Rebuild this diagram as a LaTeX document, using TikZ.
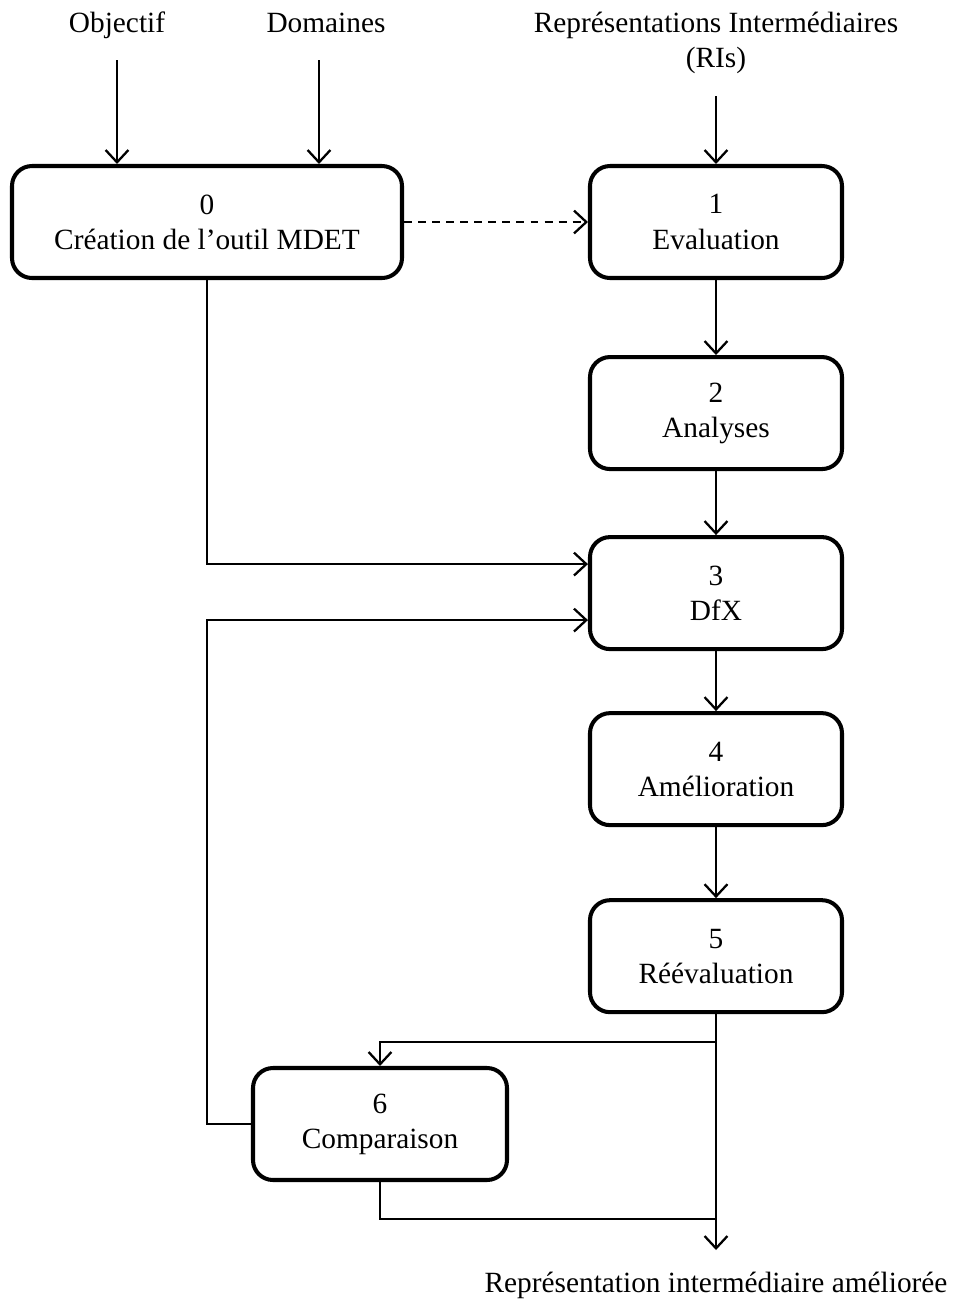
\documentclass[tikz,border=0pt]{standalone}
\usepackage{fontspec}
\setmainfont{Liberation Serif}
\usepackage{tikz}
\usetikzlibrary{arrows.meta, positioning}

\begin{document}
\begin{tikzpicture}
\tikzstyle{stepbox} = [rectangle, draw, rounded corners=0.4cm, line width=2.3pt, minimum width=5.04cm, minimum height=2.24cm, inner sep=0pt, align=center, font=\fontsize{16.7}{20}\selectfont]
\tikzstyle{inlabel} = [align=center, font=\fontsize{16.7}{20}\selectfont]
\tikzstyle{arrow} = [line width=1.3pt, -{Straight Barb[length=7pt, width=13pt]}]

\useasboundingbox (0,0) rectangle (19.06,-26.08);

% inputs and output
\node (obj) [inlabel, anchor=base] at (2.34,-0.64) {Objectif};
\node (dom) [inlabel, anchor=base] at (6.52,-0.64) {Domaines};
\node (ris) [inlabel] at (14.32,-0.86) {Représentations Intermédiaires\\(RIs)};
\node (out) [inlabel] at (14.32,-25.7) {Représentation intermédiaire améliorée};

% steps
\node (mdet) [stepbox, minimum width=7.8cm] at (4.14,-4.44) {0\\Création de l’outil MDET};
\node (eval) [stepbox] at (14.32,-4.44) {1\\Evaluation};
\node (anal) [stepbox, below=1.5cm of eval] {2\\Analyses};
\node (dfx) [stepbox, below=1.28cm of anal] {3\\DfX};
\node (amel) [stepbox, below=1.2cm of dfx] {4\\Amélioration};
\node (reev) [stepbox, below=1.42cm of amel] {5\\Réévaluation};
\node (comp) [stepbox, minimum width=5.08cm] at (7.6,-22.48) {6\\Comparaison};

\coordinate (split) at ([yshift=-0.56cm]reev.south);
\coordinate (merge) at (reev.south |- 0,-24.38);
\coordinate (fin) at (reev.south |- 0,-25.0);
\coordinate (domin) at ([xshift=-0.14cm, yshift=-0.56cm]dom.base);

\draw [arrow] ([yshift=-0.56cm]obj.base) -- (obj.base |- mdet.north);
\draw [arrow] (domin) -- (domin |- mdet.north);
\draw [arrow] ([yshift=-0.32cm]ris.south) -- (eval.north);
\draw [arrow, dashed, dash pattern=on 4.5pt off 3.5pt] (mdet.east) -- (eval.west);
\draw [arrow] (eval) -- (anal);
\draw [arrow] (anal) -- (dfx);
\draw [arrow] (dfx) -- (amel);
\draw [arrow] (amel) -- (reev);
\draw [arrow] (mdet.south) |- ([yshift=0.58cm]dfx.west);
\draw [arrow] (comp.west) -- (comp.west -| mdet.south) |- ([yshift=-0.54cm]dfx.west);
\draw [arrow] (reev.south) -- (fin);
\draw [arrow] (split) -| (comp.north);
\draw [line width=1.3pt] (comp.south) |- (merge);

\end{tikzpicture}
\end{document}
